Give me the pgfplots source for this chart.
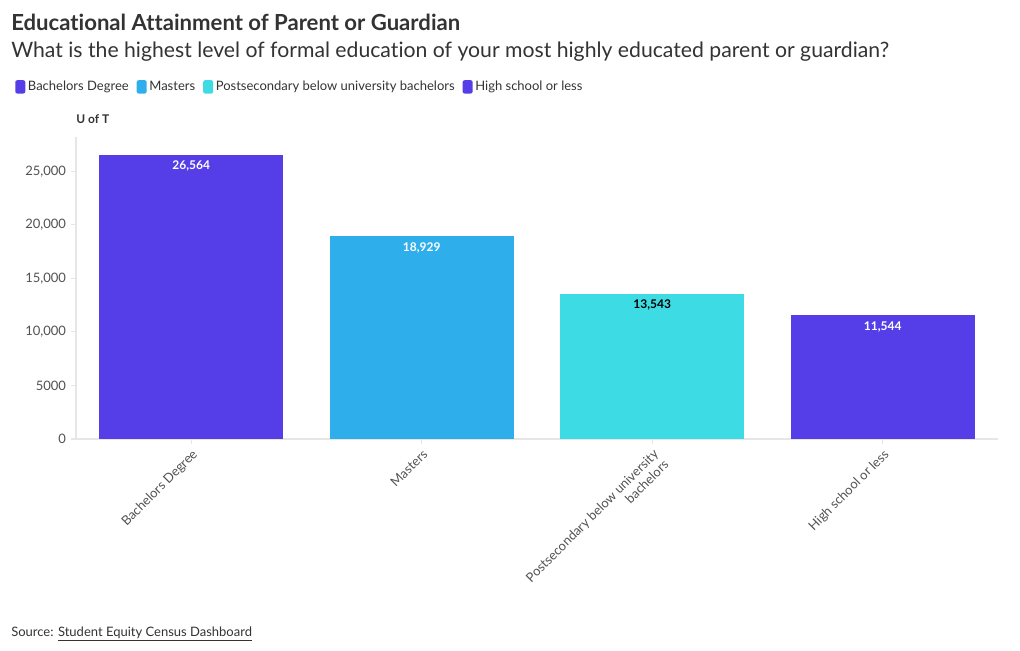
\documentclass[border=0pt]{standalone}
\usepackage{pgfplots}
\pgfplotsset{compat=1.18}
\usepackage{fontspec}
\setmainfont{Lato}[Ligatures=NoCommon]

\definecolor{cBach}{HTML}{553DE8}
\definecolor{cMast}{HTML}{2FAEEC}
\definecolor{cPost}{HTML}{3DDCE4}
\definecolor{cHigh}{HTML}{553DE8}
\definecolor{txt}{HTML}{333333}
\definecolor{axgray}{HTML}{E6E6E6}

\begin{document}
\begin{tikzpicture}[x=0.75pt,y=0.75pt]
% whole picture 1020x650 px, origin at lower-left corner of the axis box
\useasboundingbox (-76,-211) rectangle (944,439);

\begin{axis}[
    at={(0pt,0pt)}, anchor=south west,
    scale only axis,
    width=691.5pt, height=226.5pt,
    ybar, bar width=138pt,
    xmin=-0.5, xmax=3.5,
    ymin=0, ymax=28200,
    scaled y ticks=false,
    xtick={0,1,2,3},
    xticklabels={Bachelors Degree, Masters, {Postsecondary below university\\bachelors}, High school or less},
    ytick={0,5000,10000,15000,20000,25000},
    yticklabels={0,5000,{10,000},{15,000},{20,000},{25,000}},
    axis x line*=bottom, axis y line*=left,
    axis line style={axgray, line width=0.8pt},
    tick style={axgray, line width=0.8pt},
    major tick length=4pt,
    tick align=outside,
    xticklabel style={rotate=45, anchor=north east, align=right, font=\fontsize{9.75}{11}\selectfont, text=txt!85, inner sep=2pt},
    yticklabel style={font=\fontsize{9.75}{11}\selectfont, text=txt!85},
    /pgf/number format/assume math mode=true,
    /pgf/number format/fixed,
    /pgf/number format/1000 sep={,},
    nodes near coords,
    nodes near coords align={below},
    every node near coord/.append style={font=\bfseries\fontsize{9}{10}\selectfont, anchor=north, yshift=-1pt},
    legend style={at={(-0.0705,1.166)}, anchor=west, draw=none, fill=none,
        legend columns=-1, font=\fontsize{9.75}{11}\selectfont, text=txt,
        /tikz/every even column/.append style={column sep=4pt}},
    legend image code/.code={\fill[#1, rounded corners=1.5pt] (0pt,-5pt) rectangle (7.5pt,5pt);},
    clip=false,
]
\addplot[fill=cBach, draw=none, bar shift=0pt, every node near coord/.append style={text=white}] coordinates {(0,26564)};
\addplot[fill=cMast, draw=none, bar shift=0pt, every node near coord/.append style={text=white}] coordinates {(1,18929)};
\addplot[fill=cPost, draw=none, bar shift=0pt, every node near coord/.append style={text=black}] coordinates {(2,13543)};
\addplot[fill=cHigh, draw=none, bar shift=0pt, every node near coord/.append style={text=white}] coordinates {(3,11544)};
\legend{Bachelors Degree, Masters, Postsecondary below university bachelors, High school or less}
\end{axis}

\node[anchor=base west, inner sep=0, text=txt, font=\bfseries\fontsize{16.6}{19}\selectfont] at (-65,408) {Educational Attainment of Parent or Guardian};
\node[anchor=base west, inner sep=0, text=txt, font=\fontsize{15.9}{19}\selectfont] at (-65,381) {What is the highest level of formal education of your most highly educated parent or guardian?};
\node[anchor=base west, inner sep=0, text=txt, font=\bfseries\fontsize{9}{11}\selectfont] at (0,315) {U of T};
\node[anchor=base west, inner sep=0, text=txt, font=\fontsize{9.75}{11}\selectfont] at (-65,-197) {Source: \underline{Student Equity Census Dashboard}};
\end{tikzpicture}
\end{document}
